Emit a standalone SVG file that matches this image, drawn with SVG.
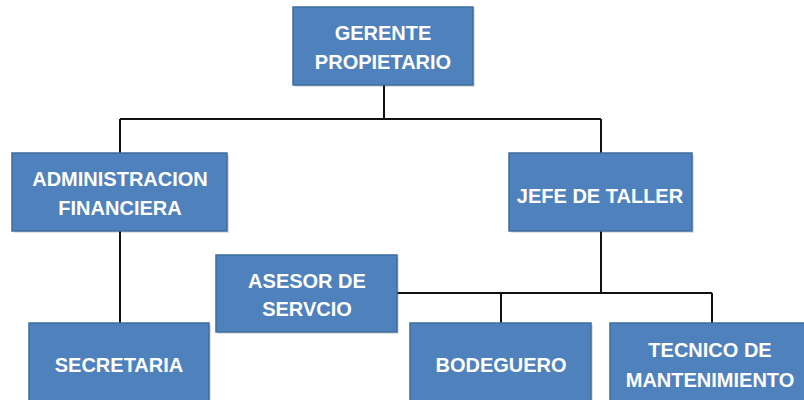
<svg xmlns="http://www.w3.org/2000/svg" width="804" height="400" viewBox="0 0 804 400">
<style>
.box{fill:#4f81bd;stroke:#3e6d9f;stroke-width:1.5}
.sh{fill:#000;opacity:0.12}
.t{font-family:"Liberation Sans",Arial,sans-serif;font-weight:bold;font-size:20px;fill:#fff;text-anchor:middle}
.ln{stroke:#111;stroke-width:2;fill:none}
</style>
<rect width="804" height="400" fill="#fff"/>
<g id="connectors">
<path class="ln" d="M384 85V119M120 119H601M120 119V153M601 119V153"/>
<path class="ln" d="M120 231V323"/>
<path class="ln" d="M601 231V293M397 293H712M501 293V323M712 293V323"/>
</g>
<g id="gerente">
<rect class="sh" x="295" y="9" width="180" height="78"/>
<rect class="box" x="293" y="7" width="180" height="78"/>
<text class="t" x="383" y="40">GERENTE</text>
<text class="t" x="383" y="69">PROPIETARIO</text>
</g>
<g id="administracion">
<rect class="sh" x="14" y="155" width="215" height="78"/>
<rect class="box" x="12" y="153" width="215" height="78"/>
<text class="t" x="120" y="186">ADMINISTRACION</text>
<text class="t" x="120" y="215">FINANCIERA</text>
</g>
<g id="jefe">
<rect class="sh" x="511" y="155" width="183" height="78"/>
<rect class="box" x="509" y="153" width="183" height="78"/>
<text class="t" x="600" y="203">JEFE DE TALLER</text>
</g>
<g id="asesor">
<rect class="sh" x="218" y="257" width="181" height="77"/>
<rect class="box" x="216" y="255" width="181" height="77"/>
<text class="t" x="307" y="288">ASESOR DE</text>
<text class="t" x="307" y="316">SERVCIO</text>
</g>
<g id="secretaria">
<rect class="sh" x="31" y="325" width="180" height="80"/>
<rect class="box" x="29" y="323" width="180" height="80"/>
<text class="t" x="119" y="372">SECRETARIA</text>
</g>
<g id="bodeguero">
<rect class="sh" x="412" y="325" width="181" height="80"/>
<rect class="box" x="410" y="323" width="181" height="80"/>
<text class="t" x="501" y="372">BODEGUERO</text>
</g>
<g id="tecnico">
<rect class="sh" x="612" y="325" width="200" height="80"/>
<rect class="box" x="610" y="323" width="200" height="80"/>
<text class="t" x="710" y="357">TECNICO DE</text>
<text class="t" x="710" y="387">MANTENIMIENTO</text>
</g>
</svg>
